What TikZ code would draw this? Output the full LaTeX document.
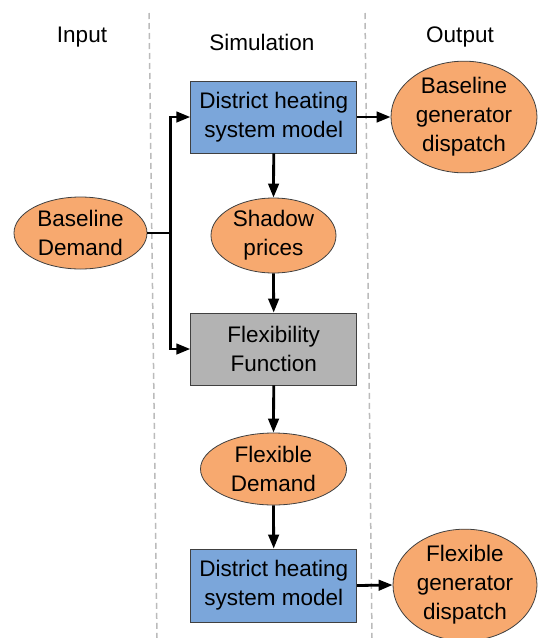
\documentclass[tikz,border=0pt]{standalone}
\usepackage{fontspec}
\setmainfont{Liberation Sans}
\usetikzlibrary{shapes.geometric,arrows.meta}
\definecolor{orfill}{HTML}{F7A96F}
\definecolor{blfill}{HTML}{7BA6DA}
\definecolor{grfill}{HTML}{B3B3B3}
\definecolor{edge}{HTML}{404040}
\definecolor{sepc}{HTML}{BBBBBB}
\tikzset{
  txt/.style={font=\fontsize{22.5}{29}\selectfont, align=center, inner sep=0pt},
  oval/.style={txt, ellipse, draw=edge, line width=0.8pt, fill=orfill},
  boxb/.style={txt, rectangle, draw=edge, line width=0.8pt, fill=blfill, minimum width=166pt, minimum height=72pt},
  boxg/.style={boxb, fill=grfill},
  hdr/.style={txt},
  arr/.style={line width=2.8pt, -{Triangle[length=14pt,width=10.5pt]}},
  ln/.style={line width=2.8pt},
  sepline/.style={sepc, line width=1.5pt, dash pattern=on 6pt off 4pt}
}
\begin{document}
\begin{tikzpicture}[x=1pt,y=-1pt]
\useasboundingbox (0,0) rectangle (538,638);
\draw[sepline] (149,13) -- (157,638);
\draw[sepline] (365,13) -- (372,638);
\node[hdr] (hin) at (82,37) {Input};
\node[hdr] (hsim) at (262,42) {Simulation};
\node[hdr] (hout) at (460,37) {Output};
\node[boxb] (dh1) at (273.7,117) {District heating\\system model};
\node[oval, minimum width=146pt, minimum height=104pt] (bgd) at (464,117) {Baseline\\generator\\dispatch};
\node[oval, minimum width=125pt, minimum height=75pt] (sp) at (273.5,235.5) {Shadow\\prices};
\node[oval, minimum width=133pt, minimum height=72pt] (bd) at (80.5,233) {Baseline\\Demand};
\node[boxg] (ff) at (273.7,349) {Flexibility\\Function};
\node[oval, minimum width=146pt, minimum height=72pt] (fd) at (273.5,469) {Flexible\\Demand};
\node[boxb, minimum height=73pt] (dh2) at (273.7,585.5) {District heating\\system model};
\node[oval, minimum width=144pt, minimum height=104pt] (fgd) at (465,585) {Flexible\\generator\\dispatch};
\coordinate (j) at (170.5,233);
\draw[ln] (bd.east) -- (j);
\draw[arr] (j) |- (dh1.west);
\draw[arr] (j) |- (ff.west);
\draw[arr] (dh1.east) -- (bgd.west);
\draw[arr] (dh1.south) -- (sp.north);
\draw[arr] (sp.south) -- (ff.north);
\draw[arr] (ff.south) -- (fd.north);
\draw[arr] (fd.south) -- (dh2.north);
\draw[arr] (dh2.east) -- (fgd.west);
\end{tikzpicture}
\end{document}
